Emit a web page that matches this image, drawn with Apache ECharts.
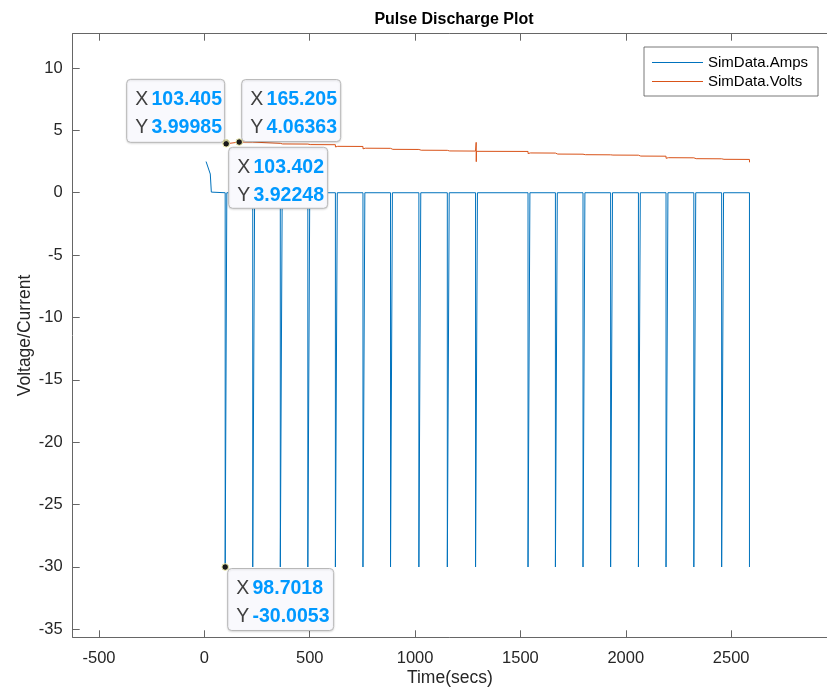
<!DOCTYPE html>
<html>
<head>
<meta charset="utf-8">
<title>Pulse Discharge Plot</title>
<script src="https://cdn.jsdelivr.net/npm/echarts@6/dist/echarts.min.js"></script>
<style>
  html, body { margin: 0; padding: 0; background: #ffffff; }
  #chart { width: 827px; height: 691px; }
</style>
</head>
<body>
<div id="chart"></div>
<script>
// ---- data ----------------------------------------------------------------
// Current pulses: start/end time of each -30 A discharge pulse (s)
var pulseStart = [98.7018, 229.5, 360.3, 491.0, 621.8, 752.6, 883.4, 1018.0, 1153.0, 1287.0,
                  1536.0, 1666.0, 1797.0, 1928.0, 2060.0, 2191.0, 2323.0, 2455.0, 2587.0];
var pulseEnd   = [106.5, 238.5, 369.3, 500.0, 630.8, 761.6, 892.4, 1027.0, 1162.0, 1296.0,
                  1545.0, 1675.0, 1806.0, 1937.0, 2069.0, 2200.0, 2332.0, 2464.0, 2589.0];
var pulseAmps  = -30.0053;
// Rest current before the first pulse
var leadTime = [8, 12, 28, 33, 34];
var leadAmps = [2.5, 2.45, 1.5, 0.05, 0];

// Terminal voltage: level during each pulse, just after it, and just before the next
var voltsDip    = [3.92248, 3.93, 3.86, 3.81, 3.67, 3.52, 3.43, 3.36, 3.30, 3.27,
                   3.14, 3.05, 3.00, 2.97, 2.89, 2.76, 2.68, 2.63, 2.44];
var voltsAfter  = [3.99985, 3.97, 3.91, 3.86, 3.72, 3.57, 3.48, 3.41, 3.35, 3.32,
                   3.19, 3.10, 3.05, 3.02, 2.94, 2.81, 2.73, 2.68];
var voltsBefore = [null, 4.06, 3.96, 3.90, 3.85, 3.71, 3.56, 3.47, 3.40, 3.34,
                   3.31, 3.18, 3.09, 3.04, 3.01, 2.93, 2.80, 2.72, 2.67];
var voltsPeak = [165.205, 4.06363];
var voltsDipTime = 103.402;
var voltsRecover = 103.405;
// Measurement glitch at the end of pulse 10
var glitchPulse = 9;
var glitchTime  = [1290.0, 1290.4, 1291.2];
var glitchVolts = [4.04, 2.49, 3.32];

// Axis limits and ticks
var xLimits = [-625, 2955];
var yLimits = [-35.64, 12.75];
var xTicks = [-500, 0, 500, 1000, 1500, 2000, 2500];
var yTicks = [-35, -30, -25, -20, -15, -10, -5, 0, 5, 10];

// Data tips: [x, y]
var tips = [
  [103.405, 3.99985],
  [165.205, 4.06363],
  [103.402, 3.92248],
  [98.7018, -30.0053]
];

// ---- build series ----------------------------------------------------------
var amps = [];
leadTime.forEach(function (t, i) { amps.push([t, leadAmps[i]]); });
pulseStart.forEach(function (s, i) {
  amps.push([s, 0]);
  amps.push([s, pulseAmps]);
  amps.push([pulseEnd[i], pulseAmps]);
  if (i < pulseStart.length - 1) amps.push([pulseEnd[i], 0]);
});

var volts = [];
volts.push([voltsDipTime, voltsDip[0]]);
volts.push([voltsRecover, voltsAfter[0]]);
volts.push(voltsPeak);
for (var i = 1; i < pulseStart.length; i++) {
  volts.push([pulseStart[i], voltsBefore[i]]);
  volts.push([pulseStart[i] + 0.3, voltsDip[i]]);
  if (i === glitchPulse) {
    glitchTime.forEach(function (t, k) { volts.push([t, glitchVolts[k]]); });
  }
  volts.push([pulseEnd[i], voltsDip[i]]);
  if (i < voltsAfter.length) volts.push([pulseEnd[i] + 2, voltsAfter[i]]);
}

// ---- chart -----------------------------------------------------------------
var FONT = '"Liberation Sans", Arial, Helvetica, sans-serif';
var AXIS = '#666666';
var chart = echarts.init(document.getElementById('chart'), null, { renderer: 'canvas' });

function plain(v) { return String(v); }

var axisCommon = {
  type: 'value',
  nameMoveOverlap: false,
  axisLine: { show: true, onZero: false, lineStyle: { color: AXIS, width: 1 } },
  axisTick: { show: true, inside: true, length: 7, lineStyle: { color: AXIS, width: 1 } },
  splitLine: { show: false }
};

chart.setOption({
  animation: false,
  backgroundColor: '#ffffff',
  title: {
    text: 'Pulse Discharge Plot',
    left: 449, top: 7, textAlign: 'center',
    textStyle: { fontFamily: FONT, fontSize: 16, fontWeight: 'bold', color: '#000000' }
  },
  legend: {
    orient: 'vertical',
    left: 644, top: 47,
    width: 176,
    padding: [7, 10, 6, 8],
    itemGap: 2,
    itemWidth: 51,
    itemHeight: 1,
    icon: 'rect',
    backgroundColor: '#ffffff',
    borderColor: '#555555',
    borderWidth: 0.8,
    align: 'left',
    textStyle: { fontFamily: FONT, fontSize: 15, color: '#000000', lineHeight: 17 },
    data: ['SimData.Amps', 'SimData.Volts']
  },
  grid: {
    left: 72.7, right: 0, top: 33.7, bottom: 53.7,
    containLabel: false, outerBoundsMode: 'none'
  },
  xAxis: [
    Object.assign({}, axisCommon, {
      position: 'bottom',
      min: xLimits[0], max: xLimits[1],
      name: 'Time(secs)', nameLocation: 'middle', nameGap: 32,
      nameTextStyle: { fontFamily: FONT, fontSize: 17.5, color: '#262626' },
      axisTick: Object.assign({}, axisCommon.axisTick, { customValues: xTicks }),
      axisLabel: { customValues: xTicks, formatter: plain, margin: 13, fontFamily: FONT, fontSize: 16.5, color: '#262626' }
    }),
    Object.assign({}, axisCommon, {
      position: 'top',
      min: xLimits[0], max: xLimits[1],
      axisTick: Object.assign({}, axisCommon.axisTick, { customValues: xTicks }),
      axisLabel: { show: false }
    })
  ],
  yAxis: [
    Object.assign({}, axisCommon, {
      position: 'left',
      min: yLimits[0], max: yLimits[1],
      name: 'Voltage/Current', nameLocation: 'middle', nameGap: 39,
      nameTextStyle: { fontFamily: FONT, fontSize: 17.5, color: '#262626' },
      axisTick: Object.assign({}, axisCommon.axisTick, { customValues: yTicks }),
      axisLabel: { customValues: yTicks, formatter: plain, margin: 10, fontFamily: FONT, fontSize: 16.5, color: '#262626' }
    })
  ],
  series: [
    {
      name: 'SimData.Amps', type: 'line', data: amps,
      xAxisIndex: 0, yAxisIndex: 0,
      symbol: 'none', showSymbol: false,
      lineStyle: { color: '#0072BD', width: 1 }, itemStyle: { color: '#0072BD' },
      silent: true
    },
    {
      name: 'SimData.Volts', type: 'line', data: volts,
      xAxisIndex: 0, yAxisIndex: 0,
      symbol: 'none', showSymbol: false,
      lineStyle: { color: '#D95319', width: 1 }, itemStyle: { color: '#D95319' },
      silent: true
    }
  ]
});

// ---- data tips ---------------------------------------------------------------
// box placement relative to the marked point: [dx, dy, width, height]
var tipBoxes = [
  [-100, -64, 98, 63],
  [2, -63, 99, 62],
  [2, 3, 99, 61],
  [2, 1, 106, 62]
];
var tipRich = {
  k: { fontFamily: FONT, fontSize: 19.5, fill: '#404040' },
  v: { fontFamily: FONT, fontSize: 19.5, fontWeight: 'bold', fill: '#0099FF' }
};
var elements = [];
tips.forEach(function (tp, k) {
  var p = chart.convertToPixel({ xAxisIndex: 0, yAxisIndex: 0 }, tp);
  var b = tipBoxes[k];
  var bx = p[0] + b[0], by = p[1] + b[1];
  elements.push({
    type: 'rect', z: 100,
    shape: { x: bx + 0.5, y: by + 0.5, width: b[2], height: b[3], r: 4 },
    style: { fill: '#f9f9fd', stroke: '#b8b8b8', lineWidth: 1,
             shadowBlur: 2, shadowColor: 'rgba(0,0,0,0.12)', shadowOffsetY: 1 }
  });
  ['X', 'Y'].forEach(function (lab, j) {
    elements.push({
      type: 'text', z: 101, x: bx + 9, y: by + 21 + j * 28,
      style: {
        text: '{k|' + lab + '} {v|' + String(tp[j]) + '}',
        verticalAlign: 'middle',
        rich: tipRich
      }
    });
  });
});
tips.forEach(function (tp) {
  var p = chart.convertToPixel({ xAxisIndex: 0, yAxisIndex: 0 }, tp);
  elements.push({
    type: 'circle', z: 102,
    shape: { cx: p[0], cy: p[1], r: 3.3 },
    style: { fill: '#1a1a1a', stroke: '#f2f0b0', lineWidth: 1 }
  });
});
chart.setOption({ graphic: { elements: elements } });
</script>
</body>
</html>
